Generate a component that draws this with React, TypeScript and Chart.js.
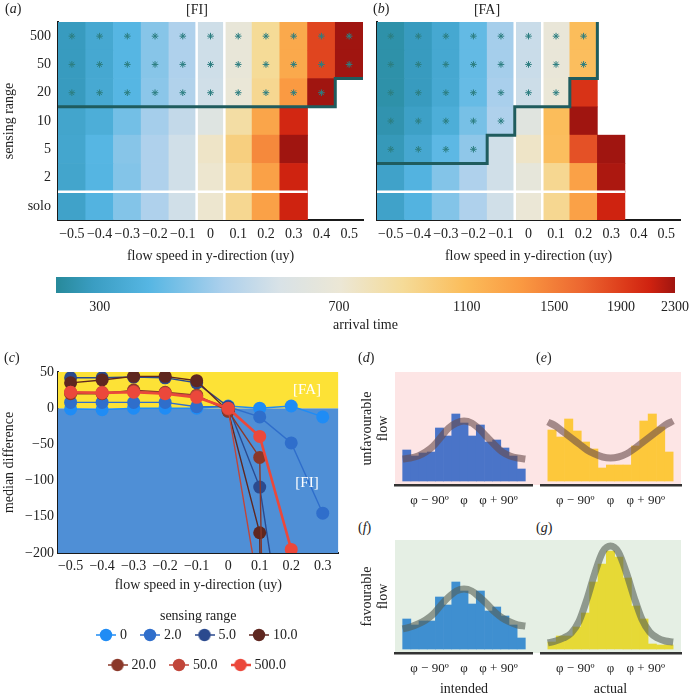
import React, { useEffect, useRef } from 'react';
import { Chart, registerables } from 'chart.js';

Chart.register(...registerables);

const SERIF = '"Liberation Serif", "Times New Roman", "DejaVu Serif", serif';
Chart.defaults.font.family = SERIF;
Chart.defaults.font.size = 14;
Chart.defaults.color = '#222';

// ------------------------------------------------------------------ data
// panels (a), (b): arrival time heat maps (rows listed bottom -> top)
const FLOW_SPEEDS = [-0.5, -0.4, -0.3, -0.2, -0.1, 0, 0.1, 0.2, 0.3, 0.4, 0.5];
const SENSING_LABELS = ['solo', '2', '5', '10', '20', '50', '500'];

const FI_SOLO = [305, 350, 410, 470, 545, 720, 900, 1280, 2100, null, null];
const FI_R2 = [312, 355, 410, 470, 545, 720, 900, 1280, 2100, null, null];
const FI_R5 = [315, 357, 415, 470, 545, 740, 960, 1430, 2300, null, null];
const FI_R10 = [312, 335, 390, 455, 515, 605, 840, 1250, 2070, null, null];
const FI_R20 = [290, 322, 357, 420, 475, 545, 690, 900, 1330, 2300, null];
const FI_R50 = [290, 320, 357, 415, 470, 540, 675, 880, 1225, 1860, 2300];
const FI_R500 = [290, 320, 357, 415, 470, 540, 675, 880, 1225, 1860, 2300];
// number of significant (*) cells per row, counted from the left
const FI_SIGNIFICANT = [0, 0, 0, 0, 10, 11, 11];

const FA_SOLO = [305, 350, 410, 470, 545, 700, 900, 1280, 2100, null, null];
const FA_R2 = [305, 350, 410, 470, 545, 660, 900, 1280, 2250, null, null];
const FA_R5 = [285, 318, 365, 425, 545, 740, 1080, 1780, 2300, null, null];
const FA_R10 = [275, 300, 335, 395, 470, 620, 1090, 2300, null, null, null];
const FA_R20 = [270, 290, 322, 375, 460, 535, 690, 1980, null, null, null];
const FA_R50 = [270, 290, 320, 372, 455, 530, 680, 1080, null, null, null];
const FA_R500 = [270, 290, 320, 372, 455, 530, 680, 1090, null, null, null];
const FA_SIGNIFICANT = [0, 0, 4, 5, 7, 8, 8];

const FI_ROWS = [FI_SOLO, FI_R2, FI_R5, FI_R10, FI_R20, FI_R50, FI_R500];
const FA_ROWS = [FA_SOLO, FA_R2, FA_R5, FA_R10, FA_R20, FA_R50, FA_R500];

// colour bar
const ARRIVAL_MIN = 257;
const ARRIVAL_MAX = 2300;
const ARRIVAL_TICKS = [300, 700, 1100, 1500, 1900, 2300];

// panel (c): median difference
const C_FLOW = [-0.5, -0.4, -0.3, -0.2, -0.1, 0, 0.1, 0.2, 0.3];
const C_RANGE_LABELS = ['0', '2.0', '5.0', '10.0', '20.0', '50.0', '500.0'];
const MD_R0 = [-1, -2, 0, 0, 0, 3, 0, 3, -12];
const MD_R2 = [8, 8, 8, 8, 2, 2, -12, -48, -145];
const MD_R5 = [42, 42, 43, 42, 35, 2, -109, -390, null];
const MD_R10 = [35, 39, 44, 44, 38, -4, -172, -4000, null];
const MD_R20 = [20, 20, 25, 22, 18, -4, -68, -2500, null];
const MD_R50 = [22, 22, 23, 21, 17, -1, -260, null, null];
const MD_R500 = [22, 21, 22, 20, 15, 0, -39, -195, null];
const C_SERIES = [MD_R0, MD_R2, MD_R5, MD_R10, MD_R20, MD_R50, MD_R500];
const C_Y_MIN = -200;
const C_Y_MAX = 50;
const C_X_MIN = -0.54;
const C_X_MAX = 0.35;
const C_REGION_TEXT = ['[FA]', '[FI]'];
const C_REGION_X = [0.25, 0.25];
const C_REGION_Y = [25, -103];

// panels (d)-(g): heading histograms with fitted curves
const HIST_BINS = [-149.3, -128, -106.7, -85.3, -64, -42.7, -21.3, 0, 21.3, 42.7, 64, 85.3, 106.7, 128, 149.3];
const HIST_TICKS = [-90, 0, 90];
const HIST_TICK_LABELS = ['\u03C6 \u2212 90\u00BA', '\u03C6', '\u03C6 + 90\u00BA'];
const D_COUNTS = [31, 25, 28, 29, 53, 45, 67, 58, 45, 56, 39, 41, 33, 25, 12];
const E_COUNTS = [51, 44, 62, 50, 39, 32, 13, 16, 16, 16, 35, 60, 67, 54, 29];
const F_COUNTS = [30, 24, 28, 28, 52, 44, 67, 58, 45, 58, 38, 42, 33, 24, 11];
const G_COUNTS = [7, 13, 13, 22, 36, 67, 85, 98, 92, 71, 43, 30, 5, 4, 4];
const CURVE_X = [-160, -140, -120, -100, -80, -60, -40, -20, 0, 20, 40, 60, 80, 100, 120, 140, 160];
const D_CURVE = [22, 23, 25, 29, 35, 44, 53, 58, 60, 58, 52, 44, 36, 29, 25, 23, 22];
const E_CURVE = [59, 55, 49, 43, 37, 31, 27, 24, 23, 24, 27, 32, 38, 44, 50, 56, 60];
const F_CURVE = [20, 22, 25, 29, 35, 44, 52, 58, 60, 58, 52, 45, 37, 31, 27, 24, 23];
const G_CURVE = [6, 8, 11, 16, 28, 50, 76, 97, 103, 97, 77, 52, 30, 17, 11, 8, 7];

// ------------------------------------------------------------------ styles
const CMAP: [number, string][] = [
  [0.0, '#27899a'],
  [0.06, '#3a9dc2'],
  [0.15, '#56b6e3'],
  [0.27, '#acd0ec'],
  [0.36, '#d8e2e7'],
  [0.46, '#ece7d5'],
  [0.56, '#f5db98'],
  [0.66, '#fbbd5b'],
  [0.75, '#fa9a42'],
  [0.85, '#ec6630'],
  [0.92, '#dc3a1a'],
  [0.96, '#cf2210'],
  [1.0, '#a01510'],
];
const SERIES_COLORS = ['#1f8cf5', '#2f6ecb', '#2b4a8e', '#5f2720', '#8a3829', '#c1463a', '#eb483b'];
const AXIS_COLOR = '#1a1a1a';

function hexRgb(h: string) {
  const n = parseInt(h.slice(1), 16);
  return [(n >> 16) & 255, (n >> 8) & 255, n & 255];
}
function cmapColor(t: number) {
  const tt = Math.max(0, Math.min(1, t));
  for (let i = 1; i < CMAP.length; i++) {
    if (tt <= CMAP[i][0]) {
      const [t0, c0] = CMAP[i - 1];
      const [t1, c1] = CMAP[i];
      const f = (tt - t0) / (t1 - t0);
      const a = hexRgb(c0);
      const b = hexRgb(c1);
      const m = a.map((v, k) => Math.round(v + (b[k] - v) * f));
      return `rgb(${m[0]},${m[1]},${m[2]})`;
    }
  }
  return CMAP[CMAP.length - 1][1];
}
function arrivalColor(v: number) {
  return cmapColor(Math.log(v / ARRIVAL_MIN) / Math.log(ARRIVAL_MAX / ARRIVAL_MIN));
}
function fmtFlow(v: number) {
  if (Math.abs(v) < 1e-9) return '0';
  const s = Math.abs(v).toFixed(1);
  return v < 0 ? '\u2212' + s : s;
}
function fmtInt(v: number) {
  return v < 0 ? '\u2212' + Math.abs(v) : String(v);
}

const NO_GRID = { display: false, drawTicks: false };
const AXIS_BORDER = { display: true, color: AXIS_COLOR, width: 2 };
const BASE_OPTS = {
  responsive: false,
  animation: false,
  devicePixelRatio: 1,
  events: [],
};

// ------------------------------------------------------------------ configs
function heatmapConfig(rows: any[], significant: number[], showY: boolean, yWidth: number, padRight: number) {
  const step = FLOW_SPEEDS[1] - FLOW_SPEEDS[0];
  const xMin = FLOW_SPEEDS[0] - step / 2;
  const xMax = FLOW_SPEEDS[FLOW_SPEEDS.length - 1] + step / 2;
  const nRows = rows.length;

  const cells = rows.map((row: any[], r: number) => ({
    type: 'bar',
    label: SENSING_LABELS[r],
    data: row
      .map((v, i) => (v == null ? null : { x: FLOW_SPEEDS[i], y: [r, r + 1], v }))
      .filter((d) => d !== null),
    backgroundColor: (ctx: any) => (ctx.raw && ctx.raw.v ? arrivalColor(ctx.raw.v) : 'rgba(0,0,0,0)'),
    borderWidth: 0,
    barPercentage: 1,
    categoryPercentage: 1,
    grouped: false,
    order: 4,
  }));

  const stars: any[] = [];
  significant.forEach((n, r) => {
    for (let i = 0; i < n; i++) stars.push({ x: FLOW_SPEEDS[i], y: r + 0.5 });
  });

  const first = significant.findIndex((n) => n > 0);
  const contour: any[] = [{ x: xMin, y: first }];
  for (let r = first; r < nRows; r++) {
    const xr = FLOW_SPEEDS[significant[r] - 1] + step / 2;
    contour.push({ x: xr, y: r });
    if (xr >= xMax - 1e-9) break;
    contour.push({ x: xr, y: r + 1 });
  }

  const zeroIdx = FLOW_SPEEDS.indexOf(0);
  const soloLast = rows[0].reduce((acc: number, v: any, i: number) => (v == null ? acc : i), 0);
  const white = (data: any[]) => ({
    type: 'line',
    data,
    borderColor: '#ffffff',
    borderWidth: 2.5,
    pointRadius: 0,
    order: 2,
  });

  return {
    type: 'bar',
    data: {
      datasets: [
        {
          type: 'line',
          label: 'significant',
          data: stars,
          showLine: false,
          pointStyle: 'star',
          pointRadius: 3.3,
          pointBorderWidth: 1,
          pointBorderColor: '#2c7e80',
          pointBackgroundColor: '#2c7e80',
          order: 0,
        },
        {
          type: 'line',
          label: 'contour',
          data: contour,
          borderColor: '#1f5c5e',
          borderWidth: 3,
          pointRadius: 0,
          borderJoinStyle: 'miter',
          order: 1,
        },
        white([
          { x: FLOW_SPEEDS[zeroIdx] - step / 2, y: 0 },
          { x: FLOW_SPEEDS[zeroIdx] - step / 2, y: nRows },
        ]),
        white([
          { x: FLOW_SPEEDS[zeroIdx] + step / 2, y: 0 },
          { x: FLOW_SPEEDS[zeroIdx] + step / 2, y: nRows },
        ]),
        white([
          { x: xMin, y: 1 },
          { x: FLOW_SPEEDS[soloLast] + step / 2, y: 1 },
        ]),
        ...cells,
      ],
    },
    options: {
      ...BASE_OPTS,
      layout: { padding: { top: 22, right: padRight, left: 0, bottom: 0 } },
      plugins: { legend: { display: false }, tooltip: { enabled: false } },
      scales: {
        x: {
          type: 'linear',
          min: xMin,
          max: xMax,
          offset: false,
          grid: NO_GRID,
          border: AXIS_BORDER,
          afterBuildTicks: (s: any) => {
            s.ticks = FLOW_SPEEDS.map((v) => ({ value: v }));
          },
          ticks: { callback: (v: number) => fmtFlow(v), padding: 6, autoSkip: false, maxRotation: 0 },
          title: { display: true, text: 'flow speed in y-direction (uy)', padding: { top: 0, bottom: 3 } },
          afterFit: (s: any) => {
            s.height = 48;
          },
        },
        y: {
          type: 'linear',
          min: 0,
          max: nRows,
          grid: NO_GRID,
          border: AXIS_BORDER,
          afterBuildTicks: (s: any) => {
            s.ticks = SENSING_LABELS.map((_, i) => ({ value: i + 0.5 }));
          },
          ticks: {
            display: showY,
            padding: 7,
            autoSkip: false,
            callback: (v: number) => SENSING_LABELS[Math.round(v - 0.5)],
          },
          title: { display: showY, text: 'sensing range', padding: { top: 1, bottom: 0 } },
          afterFit: (s: any) => {
            s.width = yWidth;
          },
        },
      },
    },
  };
}

function colorbarConfig() {
  return {
    type: 'bar',
    data: {
      labels: ['arrival time'],
      datasets: [
        {
          data: [[ARRIVAL_MIN, ARRIVAL_MAX]],
          backgroundColor: (ctx: any) => {
            const chart = ctx.chart;
            if (!chart.chartArea) return 'rgba(0,0,0,0)';
            const xs = chart.scales.x;
            const g = chart.ctx.createLinearGradient(xs.getPixelForValue(ARRIVAL_MIN), 0, xs.getPixelForValue(ARRIVAL_MAX), 0);
            CMAP.forEach(([t, c]) => g.addColorStop(t, c));
            return g;
          },
          borderWidth: 0,
          barPercentage: 1,
          categoryPercentage: 1,
        },
      ],
    },
    options: {
      ...BASE_OPTS,
      indexAxis: 'y',
      layout: { padding: { left: 56, right: 15, top: 7, bottom: 0 } },
      plugins: { legend: { display: false }, tooltip: { enabled: false } },
      scales: {
        x: {
          type: 'logarithmic',
          min: ARRIVAL_MIN,
          max: ARRIVAL_MAX,
          grid: NO_GRID,
          border: { display: false },
          afterBuildTicks: (s: any) => {
            s.ticks = ARRIVAL_TICKS.map((v) => ({ value: v }));
          },
          ticks: { callback: (v: number) => String(v), padding: 6, autoSkip: false, maxRotation: 0 },
          title: { display: true, text: 'arrival time', padding: { top: 0, bottom: 2 } },
          afterFit: (s: any) => {
            s.height = 43;
          },
        },
        y: { display: false },
      },
    },
  };
}

function makeHandle(color: string, lw: number) {
  const c = document.createElement('canvas');
  c.width = 20;
  c.height = 14;
  const g = c.getContext('2d') as CanvasRenderingContext2D;
  g.strokeStyle = color;
  g.lineWidth = lw;
  g.beginPath();
  g.moveTo(0, 7);
  g.lineTo(20, 7);
  g.stroke();
  g.fillStyle = color;
  g.beginPath();
  g.arc(10, 7, 6.2, 0, Math.PI * 2);
  g.fill();
  return c;
}

const regionTextPlugin = {
  id: 'regionText',
  afterDatasetsDraw(chart: any) {
    const { ctx, scales } = chart;
    ctx.save();
    ctx.fillStyle = '#ffffff';
    ctx.font = `15px ${SERIF}`;
    ctx.textAlign = 'center';
    ctx.textBaseline = 'middle';
    C_REGION_TEXT.forEach((t, i) => {
      ctx.fillText(t, scales.x.getPixelForValue(C_REGION_X[i]), scales.y.getPixelForValue(C_REGION_Y[i]));
    });
    ctx.restore();
  },
};

function medianConfig() {
  const handles = SERIES_COLORS.map((c, i) => makeHandle(c, i === 6 ? 2.5 : 1.5));
  const series = C_SERIES.map((vals, i) => ({
    label: C_RANGE_LABELS[i],
    data: vals.map((y, j) => (y == null ? null : { x: C_FLOW[j], y })).filter((d) => d !== null),
    borderColor: SERIES_COLORS[i],
    backgroundColor: SERIES_COLORS[i],
    pointBackgroundColor: SERIES_COLORS[i],
    borderWidth: i === 6 ? 2.6 : 1.4,
    pointRadius: 6.5,
    pointBorderWidth: 0,
    tension: 0,
    fill: false,
    order: 10 - i,
  }));
  return {
    type: 'line',
    data: {
      datasets: [
        ...series,
        {
          label: 'FA region',
          data: [
            { x: C_X_MIN, y: C_Y_MAX },
            { x: C_X_MAX, y: C_Y_MAX },
          ],
          fill: 'origin',
          backgroundColor: '#fde236',
          borderWidth: 0,
          pointRadius: 0,
          order: 30,
        },
        {
          label: 'FI region',
          data: [
            { x: C_X_MIN, y: C_Y_MIN },
            { x: C_X_MAX, y: C_Y_MIN },
          ],
          fill: 'origin',
          backgroundColor: '#4f8fd6',
          borderWidth: 0,
          pointRadius: 0,
          order: 30,
        },
      ],
    },
    plugins: [regionTextPlugin],
    options: {
      ...BASE_OPTS,
      layout: { padding: { top: 32, right: 2, left: 0, bottom: 0 } },
      plugins: {
        tooltip: { enabled: false },
        legend: {
          position: 'bottom',
          fullSize: false,
          align: 'center',
          title: { display: true, text: 'sensing range', font: { size: 14 }, padding: { top: 11, bottom: -13.8 } },
          labels: {
            usePointStyle: true,
            boxWidth: 14,
            boxHeight: 14,
            padding: 16,
            font: { size: 14 },
            filter: (item: any) => item.datasetIndex < C_SERIES.length,
            sort: (a: any, b: any) => a.datasetIndex - b.datasetIndex,
            generateLabels: (chart: any) => {
              const items = (Chart.defaults as any).plugins.legend.labels.generateLabels(chart);
              return items.map((it: any) => ({
                ...it,
                pointStyle: it.datasetIndex < handles.length ? handles[it.datasetIndex] : 'circle',
              }));
            },
          },
        },
      },
      scales: {
        x: {
          type: 'linear',
          min: C_X_MIN,
          max: C_X_MAX,
          grid: NO_GRID,
          border: AXIS_BORDER,
          afterBuildTicks: (s: any) => {
            s.ticks = C_FLOW.map((v) => ({ value: v }));
          },
          ticks: { callback: (v: number) => fmtFlow(v), padding: 5, autoSkip: false, maxRotation: 0 },
          title: { display: true, text: 'flow speed in y-direction (uy)', padding: { top: 0, bottom: 4 } },
          afterFit: (s: any) => {
            s.height = 45;
          },
        },
        y: {
          type: 'linear',
          min: C_Y_MIN,
          max: C_Y_MAX,
          grid: NO_GRID,
          border: AXIS_BORDER,
          ticks: { stepSize: 50, callback: (v: number) => fmtInt(v), padding: 4 },
          title: { display: true, text: 'median difference', padding: { top: 1, bottom: 0 } },
          afterFit: (s: any) => {
            s.width = 58;
          },
        },
      },
    },
  };
}

function histConfig(
  counts: number[],
  barColor: string,
  curve: number[],
  curveColor: string,
  yTitle: string[] | null,
  xTitle: string | null,
  xHeight: number,
  padRight: number
) {
  const yAxis: any = yTitle
    ? {
        display: true,
        min: -4,
        max: 109,
        grid: NO_GRID,
        border: { display: false },
        ticks: { display: false },
        title: { display: true, text: yTitle, padding: { top: 13.6, bottom: 0 } },
        afterFit: (s: any) => {
          s.width = 50;
        },
      }
    : { display: false, min: -4, max: 109 };
  return {
    type: 'bar',
    data: {
      datasets: [
        {
          type: 'line',
          label: 'fit',
          data: CURVE_X.map((x, i) => ({ x, y: curve[i] })),
          borderColor: curveColor,
          borderWidth: 7,
          pointRadius: 0,
          cubicInterpolationMode: 'monotone',
          order: 0,
        },
        {
          type: 'bar',
          label: 'histogram',
          data: HIST_BINS.map((x, i) => ({ x, y: counts[i] })),
          backgroundColor: barColor,
          borderWidth: 0,
          barPercentage: 1,
          categoryPercentage: 1,
          order: 1,
        },
      ],
    },
    options: {
      ...BASE_OPTS,
      layout: { padding: { top: 0, right: padRight, left: 0, bottom: 0 } },
      plugins: { legend: { display: false }, tooltip: { enabled: false } },
      scales: {
        x: {
          type: 'linear',
          min: -180,
          max: 180,
          offset: false,
          grid: NO_GRID,
          border: { display: true, color: '#333', width: 2.5 },
          afterBuildTicks: (s: any) => {
            s.ticks = HIST_TICKS.map((v) => ({ value: v }));
          },
          ticks: {
            callback: (_v: number, i: number) => HIST_TICK_LABELS[i],
            padding: 8,
            autoSkip: false,
            maxRotation: 0,
            font: { size: 13 },
          },
          title: { display: !!xTitle, text: xTitle || '', padding: { top: 0, bottom: 0 } },
          afterFit: (s: any) => {
            s.height = xHeight;
          },
        },
        y: yAxis,
      },
    },
  };
}

// ------------------------------------------------------------------ components
function ChartCanvas({ left, top, width, height, build }: any) {
  const ref = useRef<HTMLCanvasElement | null>(null);
  useEffect(() => {
    const chart = new Chart(ref.current as HTMLCanvasElement, build());
    return () => chart.destroy();
  }, []);
  return (
    <canvas
      ref={ref}
      width={width}
      height={height}
      style={{ position: 'absolute', left, top, width, height }}
    />
  );
}

function Label({ x, y, children, center }: any) {
  return (
    <div
      style={{
        position: 'absolute',
        left: x,
        top: y - 8,
        fontFamily: SERIF,
        fontSize: 14,
        lineHeight: '16px',
        color: '#222',
        whiteSpace: 'nowrap',
        transform: center ? 'translateX(-50%)' : undefined,
      }}
    >
      {children}
    </div>
  );
}

export default function App() {
  return (
    <div style={{ position: 'absolute', left: 0, top: 0, width: 695, height: 698, background: '#fff', overflow: 'hidden' }}>
      <div style={{ position: 'absolute', left: 395, top: 372, width: 286, height: 113, background: '#fde5e5' }} />
      <div style={{ position: 'absolute', left: 395, top: 540, width: 286, height: 113, background: '#e5efe4' }} />

      <ChartCanvas left={0} top={0} width={375} height={268} build={() => heatmapConfig(FI_ROWS, FI_SIGNIFICANT, true, 58, 12)} />
      <ChartCanvas left={360} top={0} width={330} height={268} build={() => heatmapConfig(FA_ROWS, FA_SIGNIFICANT, false, 17, 10)} />
      <ChartCanvas left={0} top={270} width={695} height={66} build={colorbarConfig} />
      <ChartCanvas left={0} top={340} width={345} height={342} build={medianConfig} />
      <ChartCanvas
        left={345}
        top={372}
        width={188}
        height={143}
        build={() => histConfig(D_COUNTS, '#4a74c8', D_CURVE, 'rgba(105,75,75,0.6)', ['unfavourable', 'flow'], null, 30, 0)}
      />
      <ChartCanvas
        left={540}
        top={372}
        width={150}
        height={143}
        build={() => histConfig(E_COUNTS, '#fdc83b', E_CURVE, 'rgba(105,75,75,0.6)', null, null, 30, 9)}
      />
      <ChartCanvas
        left={345}
        top={540}
        width={188}
        height={158}
        build={() => histConfig(F_COUNTS, '#3f8fd0', F_CURVE, 'rgba(85,95,85,0.6)', ['favourable', 'flow'], 'intended', 45, 0)}
      />
      <ChartCanvas
        left={540}
        top={540}
        width={150}
        height={158}
        build={() => histConfig(G_COUNTS, '#e6d936', G_CURVE, 'rgba(85,95,85,0.6)', null, 'actual', 45, 9)}
      />

      <Label x={5} y={9}>
        (<i>a</i>)
      </Label>
      <Label x={197} y={10} center>
        [FI]
      </Label>
      <Label x={373} y={9}>
        (<i>b</i>)
      </Label>
      <Label x={487} y={10} center>
        [FA]
      </Label>
      <Label x={4} y={358}>
        (<i>c</i>)
      </Label>
      <Label x={358} y={358}>
        (<i>d</i>)
      </Label>
      <Label x={536} y={358}>
        (<i>e</i>)
      </Label>
      <Label x={358} y={528}>
        (<i>f</i>)
      </Label>
      <Label x={536} y={528}>
        (<i>g</i>)
      </Label>
    </div>
  );
}
